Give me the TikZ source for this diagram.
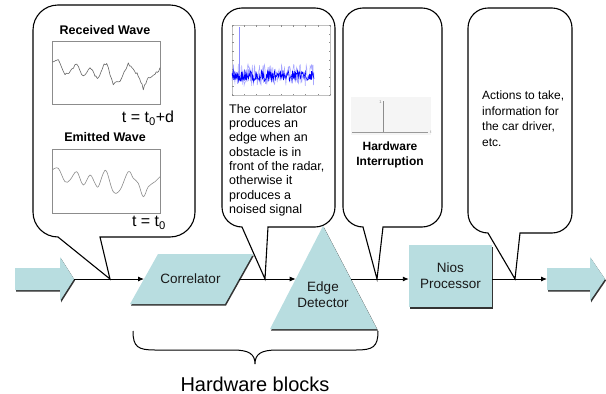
\documentclass[tikz,border=0pt]{standalone}
\usepackage{fontspec}
\setmainfont{Liberation Sans}
\usetikzlibrary{arrows.meta,shadows}
\definecolor{blockfill}{RGB}{184,221,224}
\newcommand\mybubble[7]{%
  \pgfmathsetmacro\bubc{0.448*#5}%
  \draw[bubble] (#7) -- (#6,#4) -- ({#3-#5},#4)
    .. controls ({#3-\bubc},#4) and (#3,{#4-\bubc}) .. (#3,{#4-#5})
    -- (#3,{#2+#5})
    .. controls (#3,{#2+\bubc}) and ({#3-\bubc},#2) .. ({#3-#5},#2)
    -- ({#1+#5},#2)
    .. controls ({#1+\bubc},#2) and (#1,{#2+\bubc}) .. (#1,{#2+#5})
    -- (#1,{#4-#5})
    .. controls (#1,{#4-\bubc}) and ({#1+\bubc},#4) .. ({#1+#5},#4)
    -- cycle;}
\begin{document}
\begin{tikzpicture}[x=1pt,y=-1pt,
  conn/.style={draw=black, line width=0.9pt, -{Latex[length=6pt,width=5pt]}},
  bubble/.style={draw=black, line width=1.1pt, fill=white},
  block/.style={fill=blockfill, general shadow={fill=black!80, shadow xshift=1pt, shadow yshift=-1.5pt}},
  lbl/.style={font=\fontsize{13.5}{16}\selectfont, align=center, inner sep=0pt, text=black!90},
  btxt/.style={font=\fontsize{12.5}{14.3}\selectfont, align=left, inner sep=0pt, anchor=north west},
  ttl/.style={font=\bfseries\fontsize{12.5}{15}\selectfont, align=center, inner sep=0pt},
  teq/.style={font=\fontsize{16}{18}\selectfont, inner sep=0pt},
  frame/.style={draw=black!45, line width=0.5pt}
]
\useasboundingbox (0,0) rectangle (606,394);
\pgfmathsetseed{11}

% connection points
\coordinate (latip) at (74,279);
\coordinate (ratail) at (547,279);
\coordinate (tip1) at (110,279);
\coordinate (tip2) at (265,279);
\coordinate (tip3) at (377,279);
\coordinate (tip4) at (515,279);
\coordinate (corrL) at (144,279);
\coordinate (corrR) at (239,279);
\coordinate (edL) at (295.7,279);
\coordinate (edR) at (350.8,279);

% callouts
\mybubble{33}{5}{195}{237}{25}{100}{tip1}
\mybubble{222}{8}{335}{227}{20}{268}{tip2}
\mybubble{343}{8}{442}{227}{20}{383}{tip3}
\mybubble{468}{8}{572}{233}{20}{520}{tip4}

% bubble 1 content
\node[ttl] (rw) at (105,30) {Received Wave};
\draw[frame] (52,41) rectangle (160,104);
\begin{scope}[shift={(52,41)}]
  \draw[black!60, line width=0.6pt, line join=round] (0.3,21)
    \foreach \xa/\ya/\xb/\yb in {0.3/21/6.3/19.3, 6.3/19.3/13/32.7, 13/32.7/18/31, 18/31/24.7/22.7, 24.7/22.7/31.3/36, 31.3/36/38/26, 38/26/43/34.3, 43/34.3/46.3/37.7, 46.3/37.7/51.3/24.3, 51.3/24.3/54.7/22.7, 54.7/22.7/61.3/42.7, 61.3/42.7/68/41, 68/41/76.3/22.7, 76.3/22.7/81.3/29.3, 81.3/29.3/86.3/34.3, 86.3/34.3/91.3/47.7, 91.3/47.7/96.3/37.7, 96.3/37.7/103/32.7, 103/32.7/108/27.7} {
      \foreach \k in {1,2,3,4} { -- ({\xa+\k/4*(\xb-\xa)}, {\ya+\k/4*(\yb-\ya)+1.4*rand}) }
    };
\end{scope}
\node[teq] (teq1) at (148,118) {t = t\textsubscript{0}+d};
\node[ttl] (ew) at (105,137) {Emitted Wave};
\draw[frame] (52,149) rectangle (160,213);
\begin{scope}[shift={(52,149)}]
  \draw[black!45, line width=0.6pt] plot[smooth, tension=0.6] coordinates {(0.3,21) (6.3,19.3) (13,32.7) (18,31) (24.7,22.7) (31.3,36) (38,26) (43,34.3) (46.3,37.7) (51.3,24.3) (54.7,22.7) (61.3,42.7) (68,41) (76.3,22.7) (81.3,29.3) (86.3,34.3) (91.3,47.7) (96.3,37.7) (103,32.7) (108,27.7)};
\end{scope}
\node[teq] (teq2) at (149,223) {t = t\textsubscript{0}};

% bubble 2 content
\draw[frame, draw=black!25] (232,25) rectangle (330,95);
\foreach \i in {0,...,8} {
  \draw[black!45, line width=0.4pt] ({232+\i*12.25},95) -- ++(0,-1.5);
  \draw[black!45, line width=0.4pt] ({232+\i*12.25},25) -- ++(0,1.5);
  \draw[black!45, line width=0.4pt] (232,{25+\i*8.75}) -- ++(1.5,0);
  \draw[black!45, line width=0.4pt] (330,{25+\i*8.75}) -- ++(-1.5,0);
}
\draw[blue!35, line width=0.5pt] plot[domain=232:314, samples=170] (\x, {75+11*rand});
\draw[blue, line width=0.6pt] plot[domain=232:314, samples=200] (\x, {76+5.5*rand});
\draw[blue!45, line width=0.8pt] (239,76) -- (239,27);
\node[btxt] (txt2) at (229,104) {The correlator\\produces an\\edge when an\\obstacle is in\\front of the radar,\\otherwise it\\produces a\\noised signal};

% bubble 3 content
\fill[black!4] (351,97) rectangle (431,135);
\draw[black!40, line width=0.5pt] (352,132) -- (428,132);
\draw[black!45, line width=0.8pt] (383,132) -- (383,101);
\node[font=\fontsize{4}{4}\selectfont, text=black!50, inner sep=0pt] (one) at (380.5,102) {1};
\node[font=\fontsize{4}{4}\selectfont, text=black!50, inner sep=0pt] (tlab) at (431,132) {t};
\node[ttl, font=\bfseries\fontsize{12}{15}\selectfont] (hwi) at (390,154.5) {Hardware\\Interruption};

% bubble 4 content
\node[btxt, font=\fontsize{12}{15.5}\selectfont] (txt4) at (482,91) {Actions to take,\\information for\\the car driver,\\etc.};

% blocks
\path[block] (15,268) -- (60,268) -- (60,257) -- (latip) -- (60,301) -- (60,290) -- (15,290) -- cycle;
\path[block] (ratail) -- (547,268) -- (590,268) -- (590,257) -- (605,279) -- (590,301) -- (590,290) -- (547,290) -- cycle;
\path[block] (130,304) -- (158,254) -- (253,254) -- (225,304) -- cycle;
\node[lbl] (corr) at (190.5,279) {Correlator};
\path[block] (270,329) -- (323,226) -- (377,329) -- cycle;
\node[lbl] (edge) at (323,295) {Edge\\Detector};
\node[rectangle, block, lbl, minimum width=83pt, minimum height=62pt] (nios) at (450.5,276) {Nios\\Processor};

% connectors
\draw[conn] (latip) -- (corrL);
\draw[conn] (corrR) -- (edL);
\draw[conn] (edR) -- (edR -| nios.west);
\draw[conn] (nios.east |- ratail) -- (ratail);

% brace
\draw[line width=1pt] (133,331) .. controls (133,347) and (138,350) .. (155,350) -- (233,350)
  .. controls (249,350) and (255,354) .. (255,364)
  .. controls (255,354) and (261,350) .. (277,350) -- (356,350)
  .. controls (373,350) and (378,347) .. (378,331);
\node[font=\fontsize{20}{24}\selectfont, inner sep=0pt] (hb) at (255,384) {Hardware blocks};
\end{tikzpicture}
\end{document}
